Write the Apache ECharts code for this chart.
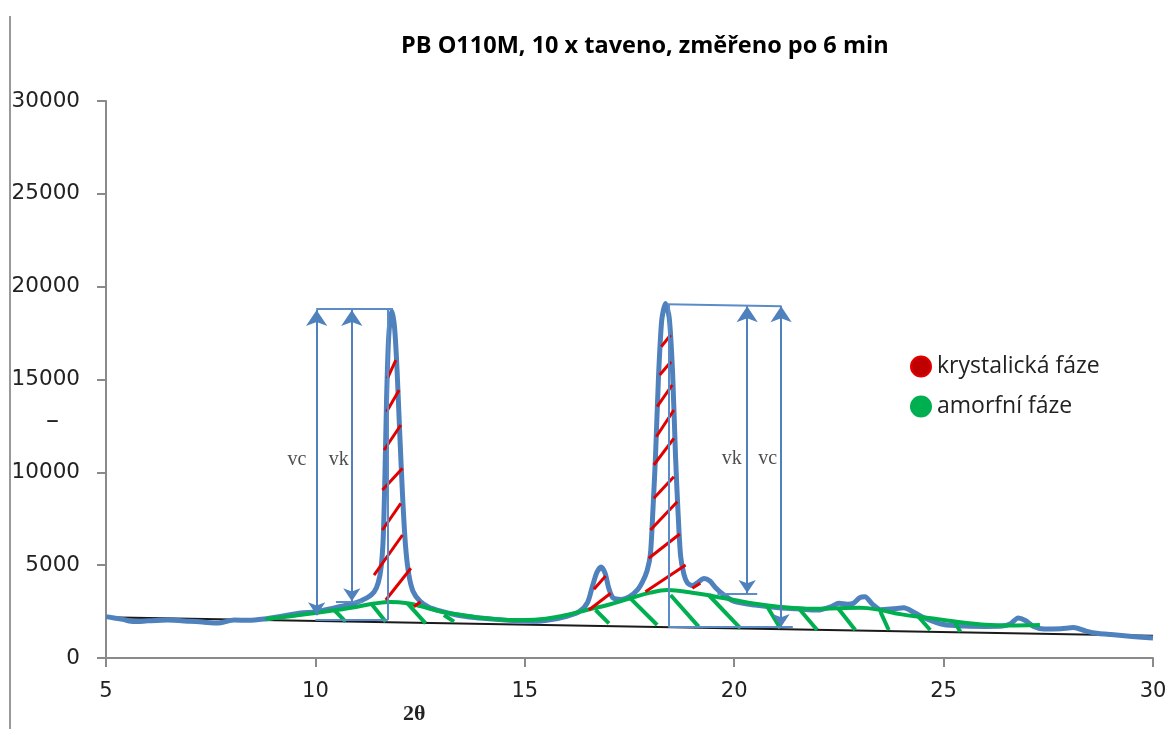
<!DOCTYPE html>
<html>
<head>
<meta charset="utf-8">
<title>PB O110M</title>
<script src="https://cdn.jsdelivr.net/npm/echarts@6/dist/echarts.min.js"></script>
<style>
  html, body { margin: 0; padding: 0; background: #fff; }
  #chart { width: 1170px; height: 729px; }
</style>
</head>
<body>
<div id="chart"></div>
<script>
// measured pattern [2theta, intensity]
var measured = [
  [5.0,2230],[5.2,2150],[5.4,2080],[5.67,1960],[6.0,2000],[6.47,2040],[7.0,1980],[7.3,1940],
  [7.66,1880],[8.06,2040],[8.4,2030],[8.77,2100],[9.2,2250],[9.65,2430],[10.0,2480],[10.45,2700],
  [10.92,2940],[11.24,3250],[11.4,3550],[11.5,4050],[11.57,4900],[11.62,6500],[11.66,9800],
  [11.70,14000],[11.75,17300],[11.82,18700],[11.89,17800],[11.95,15500],[12.01,12300],[12.08,8800],
  [12.15,6100],[12.23,4500],[12.33,3600],[12.5,3050],[12.7,2750],[13.0,2520],[13.4,2300],[13.8,2180],
  [14.3,2080],[14.8,2000],[15.2,1980],[15.6,2060],[16.0,2250],[16.3,2500],[16.5,3000],[16.62,3900],
  [16.72,4600],[16.82,4900],[16.92,4550],[17.0,3800],[17.1,3250],[17.3,3150],[17.5,3300],[17.7,3700],
  [17.81,4100],[17.92,4700],[18.0,5600],[18.06,8000],[18.12,10800],[18.19,15000],[18.27,18200],
  [18.36,19100],[18.45,18300],[18.53,15300],[18.6,10800],[18.66,7800],[18.72,5500],[18.8,4500],
  [18.88,4050],[19.0,3900],[19.12,4050],[19.28,4280],[19.42,4150],[19.55,3800],[19.75,3400],
  [20.0,3050],[20.5,2850],[21.0,2720],[21.5,2650],[22.0,2580],[22.3,2750],[22.5,2950],[22.7,2900],
  [22.85,2950],[23.0,3250],[23.12,3300],[23.3,2900],[23.5,2600],[23.8,2650],[24.05,2700],[24.3,2450],
  [24.6,2100],[25.0,1800],[25.5,1720],[26.0,1700],[26.4,1720],[26.6,1850],[26.78,2150],[26.95,2020],
  [27.15,1700],[27.4,1560],[27.8,1580],[28.1,1640],[28.4,1450],[28.7,1320],[29.0,1260],[29.5,1160],
  [30.0,1080]
];

// amorphous halo
var amorph = [
  [8.8,2100],[9.0,2150],[9.5,2280],[10.0,2420],[10.5,2580],[11.0,2760],[11.4,2930],[11.8,3020],
  [12.2,2950],[12.5,2800],[13.0,2500],[13.5,2320],[14.0,2150],[14.5,2060],[15.0,2040],[15.5,2120],
  [16.0,2320],[16.5,2600],[17.0,2870],[17.5,3200],[18.0,3520],[18.4,3660],[19.0,3520],[19.5,3330],
  [20.0,3120],[20.5,2920],[21.0,2770],[21.5,2680],[22.0,2650],[22.5,2680],[23.0,2700],[23.4,2620],
  [24.0,2350],[24.5,2200],[25.0,2050],[25.5,1900],[26.0,1790],[26.5,1750],[27.0,1760],[27.3,1780]
];

var background = [[5,2200],[30,1200]];

var crystHatch = [
  [[11.72,15065],[11.92,16050]], [[11.70,13266],[12.00,14434]], [[11.64,11203],[12.04,12549]],
  [[11.60,9048],[12.08,10217]], [[11.60,6894],[12.04,8332]], [[11.40,4470],[12.08,6625]],
  [[11.68,3124],[12.28,4831]], [[12.35,2763],[12.51,3032]],
  [[16.65,3700],[16.93,4416]], [[16.53,2585],[17.05,3485]],
  [[18.26,16767],[18.48,17397]], [[18.22,15242],[18.49,15958]], [[18.16,13535],[18.52,14704]],
  [[18.14,11919],[18.56,13357]], [[18.08,10395],[18.56,11833]], [[18.08,8601],[18.56,9765]],
  [[18.00,6894],[18.64,8418]], [[17.96,5370],[18.70,6679]], [[17.88,3571],[18.84,5009]],
  [[19.00,3754],[19.19,4023]]
];

var amorphHatch = [
  [[10.45,2585],[10.72,1955]], [[11.36,2855],[11.68,1955]], [[12.20,2946],[12.63,1869]],
  [[13.07,2316],[13.31,1955]], [[16.69,2585],[17.01,1869]], [[17.48,3302],[18.16,1777]],
  [[18.48,3393],[19.15,1686]], [[19.39,3393],[20.15,1600]], [[20.78,2800],[21.10,1600]],
  [[21.54,2677],[21.98,1508]], [[22.49,2650],[22.89,1508]], [[23.49,2494],[23.69,1508]],
  [[24.40,2224],[24.68,1508]], [[25.28,1869],[25.40,1417]]
];

var heightArrows = [
  [[10.03,2300],[10.03,18750]], [[10.87,3050],[10.87,18750]],
  [[20.31,3500],[20.31,18950]], [[21.12,1670],[21.12,18950]]
];

var guideLines = [
  [[10.02,18800],[11.85,18800]], [[11.73,18800],[11.73,2050]], [[10.0,2050],[11.73,2050]],
  [[10.49,3050],[11.13,3050]], [[18.40,19050],[21.13,18950]], [[18.43,19050],[18.43,1670]],
  [[19.6,3450],[20.55,3450]], [[18.43,1670],[21.4,1670]]
];

var arrowLabels = [[9.56,10660,'vc'],[10.56,10660,'vk'],[19.94,10745,'vk'],[20.80,10745,'vc']];

function segs(list) {
  return list.map(function (s) { return { coords: s }; });
}

var myChart = echarts.init(document.getElementById('chart'));
var axisColor = '#8a8a8a';
var option = {
  animation: false,
  title: {
    text: 'PB O110M, 10 x taveno, změřeno po 6 min',
    left: 396,
    top: 29,
    textStyle: { fontFamily: 'Open Sans', fontSize: 23.5, fontWeight: 'bold', color: '#000' }
  },
  legend: {
    orient: 'vertical',
    left: 905,
    top: 350,
    itemWidth: 22,
    itemHeight: 20,
    itemGap: 17,
    selectedMode: false,
    textStyle: { fontFamily: 'Open Sans', fontSize: 23, color: '#222' },
    data: [
      { name: 'krystalická fáze', icon: 'circle', itemStyle: { color: '#C00000' } },
      { name: 'amorfní fáze', icon: 'circle', itemStyle: { color: '#00B050' } }
    ]
  },
  grid: { left: 106, right: 17, top: 101, bottom: 71 },
  xAxis: {
    type: 'value',
    min: 5, max: 30, interval: 5,
    splitLine: { show: false },
    axisLine: { lineStyle: { color: axisColor, width: 2 } },
    axisTick: { length: 9, lineStyle: { color: axisColor, width: 2 } },
    axisLabel: { margin: 23, fontFamily: 'DejaVu Sans', fontSize: 21, color: '#222' }
  },
  yAxis: {
    type: 'value',
    min: 0, max: 30000, interval: 5000,
    splitLine: { show: false },
    axisLine: { show: true, lineStyle: { color: axisColor, width: 2 } },
    axisTick: { show: true, length: 9, lineStyle: { color: axisColor, width: 2 } },
    axisLabel: {
      margin: 26, fontFamily: 'DejaVu Sans', fontSize: 21.5, color: '#222',
      formatter: function (v) { return String(v); }
    }
  },
  graphic: [
    { type: 'line', shape: { x1: 10, y1: 16, x2: 10, y2: 729 }, style: { stroke: '#999', lineWidth: 2 } },
    { type: 'text', left: 46, top: 408, style: { text: '–', fontSize: 26, fontFamily: 'DejaVu Sans', fill: '#222' } },
    { type: 'text', left: 403, top: 703, style: { text: '2θ', fontSize: 22, fontWeight: 'bold', fontFamily: 'Liberation Serif', fill: '#222' } }
  ],
  series: [
    {
      name: 'pozadí', type: 'line', data: background, symbol: 'none', z: 1,
      lineStyle: { color: '#1a1a1a', width: 2 }
    },
    {
      name: 'měření', type: 'line', data: measured, symbol: 'none', z: 2,
      smooth: 0.25,
      lineStyle: { color: '#4F81BD', width: 5 }
    },
    {
      name: 'amorfní halo', type: 'line', data: amorph, symbol: 'none', z: 3,
      smooth: 0.4,
      lineStyle: { color: '#00B050', width: 4 }
    },
    {
      name: 'krystalická fáze', type: 'lines', coordinateSystem: 'cartesian2d', z: 4,
      data: segs(crystHatch),
      lineStyle: { color: '#E00000', width: 3, opacity: 1 }
    },
    {
      name: 'amorfní fáze', type: 'lines', coordinateSystem: 'cartesian2d', z: 4,
      data: segs(amorphHatch),
      lineStyle: { color: '#00B050', width: 4, opacity: 1 }
    },
    {
      name: 'hranice', type: 'lines', coordinateSystem: 'cartesian2d', z: 5,
      data: segs(guideLines),
      lineStyle: { color: '#5B8CC8', width: 2, opacity: 1 }
    },
    {
      name: 'výšky', type: 'lines', coordinateSystem: 'cartesian2d', z: 5,
      data: segs(heightArrows),
      symbol: ['arrow', 'arrow'], symbolSize: [13, 16],
      lineStyle: { color: '#4F81BD', width: 2, opacity: 1 }
    },
    {
      name: 'popisky', type: 'scatter', data: arrowLabels, symbolSize: 0, z: 6,
      label: {
        show: true, position: 'inside',
        formatter: function (p) { return p.value[2]; },
        fontFamily: 'Liberation Serif', fontSize: 20, color: '#222'
      }
    }
  ]
};
myChart.setOption(option);
</script>
</body>
</html>
